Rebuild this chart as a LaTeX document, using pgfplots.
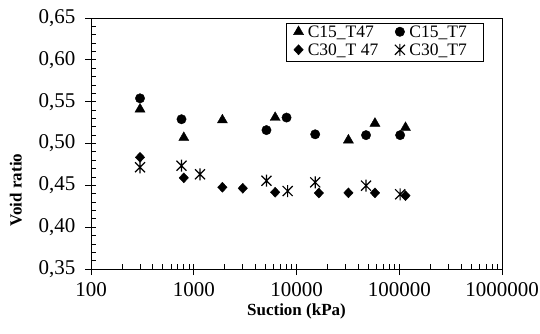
\documentclass[border=0pt]{standalone}
\usepackage{pgfplots}
\pgfplotsset{compat=1.18}
\usepackage{fontspec}
\setmainfont{Liberation Serif}
\pgfdeclareplotmark{xbar}{%
 \pgfpathmoveto{\pgfqpoint{-\pgfplotmarksize}{-\pgfplotmarksize}}%
 \pgfpathlineto{\pgfqpoint{\pgfplotmarksize}{\pgfplotmarksize}}%
 \pgfpathmoveto{\pgfqpoint{-\pgfplotmarksize}{\pgfplotmarksize}}%
 \pgfpathlineto{\pgfqpoint{\pgfplotmarksize}{-\pgfplotmarksize}}%
 \pgfpathmoveto{\pgfqpoint{0pt}{-1.2\pgfplotmarksize}}%
 \pgfpathlineto{\pgfqpoint{0pt}{1.2\pgfplotmarksize}}%
 \pgfusepathqstroke}
\begin{document}
\begin{tikzpicture}
\path[use as bounding box] (-91pt,-64pt) rectangle (449pt,269pt);
\begin{axis}[
 scale only axis, width=411pt, height=251pt,
 at={(0pt,0pt)}, anchor=south west,
 xmode=log, xmin=100, xmax=1000000, ymin=0.35, ymax=0.65,
 xtick={100,1000,10000,100000,1000000},
 xticklabels={100,1000,10000,100000,1000000},
 minor xtick={200,300,400,500,600,700,800,900,2000,3000,4000,5000,6000,7000,8000,9000,20000,30000,40000,50000,60000,70000,80000,90000,200000,300000,400000,500000,600000,700000,800000,900000},
 ytick={0.35,0.40,0.45,0.50,0.55,0.60,0.65},
 minor y tick num=4,
 yticklabel style={xshift=-12pt, /pgf/number format/fixed, /pgf/number format/fixed zerofill, /pgf/number format/precision=2, /pgf/number format/use comma},
 /pgf/number format/assume math mode=true,
 tick label style={font=\fontsize{21}{25}\selectfont},
 xticklabel style={yshift=-10pt},
 xtick pos=left, ytick pos=left,
 tick align=inside,
 major tick length=11pt, minor tick length=5pt,
 every major x tick/.append style={yshift=-6pt},
 every major y tick/.append style={xshift=-6pt},
 tick style={black, line width=0.8pt},
 axis line style={line width=0.8pt},
 xlabel={Suction (kPa)}, ylabel={Void ratio},
 label style={font=\fontsize{17}{20}\selectfont\bfseries},
 xlabel style={at={(axis description cs:0.5,-0.167)}, anchor=center},
 ylabel style={at={(axis description cs:-0.183,0.315)}, anchor=center},
 legend columns=2, legend cell align=left,
 legend image code/.code={\path (0pt,0pt) (14pt,0pt); \draw[#1] plot coordinates {(6pt,1.5pt)};},
 legend style={at={(axis description cs:0.954,0.980)}, anchor=north east,
   draw=black, line width=0.5pt, font=\fontsize{17.5}{20}\selectfont,
   inner xsep=6pt, inner ysep=1pt, row sep=0pt, column sep=0pt,
   nodes={inner sep=1pt, text height=12pt, text depth=4pt},
   /tikz/column 2/.style={column sep=14pt}},
]
\addplot[only marks, mark=triangle*, mark size=5.8pt, black] coordinates {
 (300,0.541) (800,0.507) (1900,0.528) (6200,0.531) (32000,0.504) (58000,0.524) (115000,0.519)};
\addlegendentry{C15\_T47}
\addplot[only marks, mark=*, mark size=4.7pt, black] coordinates {
 (300,0.554) (760,0.529) (5100,0.516) (8000,0.531) (15200,0.511) (47500,0.510) (102000,0.510)};
\addlegendentry{C15\_T7\hspace*{9pt}}
\addplot[only marks, mark=diamond*, mark size=5pt, mark options={xscale=1.25}, black] coordinates {
 (300,0.4835) (800,0.459) (1900,0.4477) (3000,0.4465) (6200,0.4417) (16500,0.4408) (32000,0.441) (58000,0.441) (115000,0.4376)};
\addlegendentry{C30\_T 47}
\addplot[only marks, mark=xbar, mark size=5pt, line width=1.2pt, black] coordinates {
 (300,0.4716) (760,0.4735) (1150,0.4632) (5100,0.4555) (8200,0.4432) (15200,0.4536) (47500,0.4496) (102000,0.4393)};
\addlegendentry{C30\_T7\hspace*{9pt}}
\end{axis}
\end{tikzpicture}
\end{document}
